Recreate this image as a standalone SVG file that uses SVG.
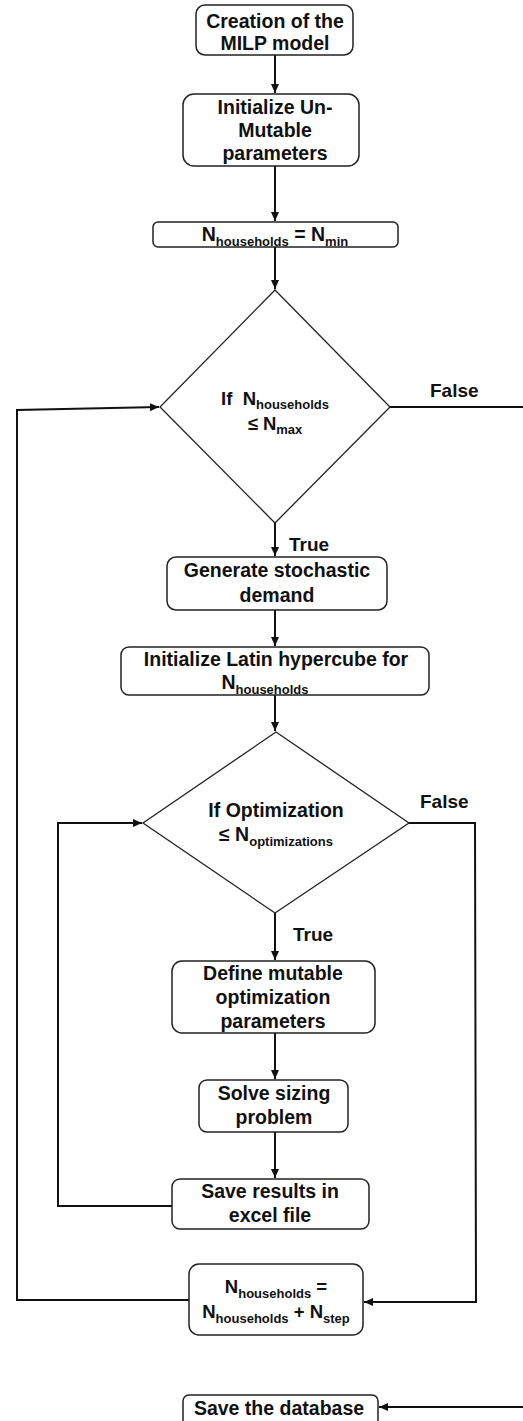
<svg xmlns="http://www.w3.org/2000/svg" width="523" height="1421" viewBox="0 0 523 1421">
<style>
.box{fill:#fff;stroke:#222;stroke-width:1.5}
.dia{fill:#fff;stroke:#222;stroke-width:1.3}
.t{font-family:"Liberation Sans",Arial,sans-serif;font-weight:bold;font-size:19.5px;fill:#111;text-anchor:middle}
.lbl{font-family:"Liberation Sans",Arial,sans-serif;font-weight:bold;font-size:19px;fill:#111}
.c{fill:none;stroke:#111;stroke-width:2}
.sub{font-size:13px}
</style>
<defs>
<marker id="ah" markerUnits="userSpaceOnUse" markerWidth="10" markerHeight="10" refX="9" refY="4" orient="auto">
<path d="M0,0 L9,4 L0,8 Z" fill="#111"/>
</marker>
</defs>
<rect width="523" height="1421" fill="#fff"/>
<g id="connectors">
<line class="c" x1="275" y1="55" x2="275" y2="93" marker-end="url(#ah)"/>
<line class="c" x1="275" y1="166" x2="275" y2="221" marker-end="url(#ah)"/>
<line class="c" x1="275" y1="247" x2="275" y2="289" marker-end="url(#ah)"/>
<line class="c" x1="275" y1="523" x2="275" y2="556" marker-end="url(#ah)"/>
<line class="c" x1="275" y1="610" x2="275" y2="646" marker-end="url(#ah)"/>
<line class="c" x1="275" y1="695" x2="275" y2="731" marker-end="url(#ah)"/>
<line class="c" x1="275" y1="913" x2="275" y2="960" marker-end="url(#ah)"/>
<line class="c" x1="275" y1="1033" x2="275" y2="1079" marker-end="url(#ah)"/>
<line class="c" x1="275" y1="1132" x2="275" y2="1178" marker-end="url(#ah)"/>
<polyline class="c" points="172,1206 58,1206 58,823 142,823" marker-end="url(#ah)"/>
<polyline class="c" points="409,823 475,823 476,1302 364,1302" marker-end="url(#ah)"/>
<polyline class="c" points="189,1300 17,1300 17,410 159,407" marker-end="url(#ah)"/>
<line class="c" x1="390" y1="407" x2="523" y2="407"/>
<line class="c" x1="523" y1="1407" x2="379" y2="1407" marker-end="url(#ah)"/>
<text class="lbl" x="289" y="551">True</text>
<text class="lbl" x="293" y="941">True</text>
<text class="lbl" x="430" y="397">False</text>
<text class="lbl" x="420" y="808">False</text>
</g>
<g id="n1">
<rect class="box" x="196" y="5" width="157" height="50" rx="9"/>
<text class="t" x="275" y="28">Creation of the</text>
<text class="t" x="275" y="50">MILP model</text>
</g>
<g id="n2">
<rect class="box" x="183" y="94" width="176" height="72" rx="11"/>
<text class="t" x="275" y="114">Initialize Un-</text>
<text class="t" x="275" y="137">Mutable</text>
<text class="t" x="275" y="160">parameters</text>
</g>
<g id="n3">
<rect class="box" x="153" y="222" width="245" height="25" rx="5"/>
<text class="t" x="275" y="241">N<tspan class="sub" dy="5">households</tspan><tspan dy="-5"> = N</tspan><tspan class="sub" dy="5">min</tspan></text>
</g>
<g id="d1">
<polygon class="dia" points="275,290 390,407 275,523 160,407"/>
<text class="t" x="275" y="405" style="font-size:18.5px">If &#160;N<tspan class="sub" dy="4">households</tspan></text>
<text class="t" x="275" y="430" style="font-size:18.5px">≤ N<tspan class="sub" dy="4">max</tspan></text>
</g>
<g id="n4">
<rect class="box" x="167" y="557" width="220" height="53" rx="9"/>
<text class="t" x="277" y="577">Generate stochastic</text>
<text class="t" x="277" y="602">demand</text>
</g>
<g id="n5">
<rect class="box" x="121" y="647" width="308" height="48" rx="8"/>
<text class="t" x="276" y="666">Initialize Latin hypercube for</text>
<text class="t" x="265" y="689">N<tspan class="sub" dy="5">households</tspan></text>
</g>
<g id="d2">
<polygon class="dia" points="276,732 409,823 275,913 143,823"/>
<text class="t" x="276" y="817">If Optimization</text>
<text class="t" x="276" y="841">≤ N<tspan class="sub" dy="5">optimizations</tspan></text>
</g>
<g id="n6">
<rect class="box" x="172" y="961" width="203" height="72" rx="10"/>
<text class="t" x="273" y="980">Define mutable</text>
<text class="t" x="273" y="1004">optimization</text>
<text class="t" x="273" y="1028">parameters</text>
</g>
<g id="n7">
<rect class="box" x="199" y="1080" width="149" height="52" rx="8"/>
<text class="t" x="274" y="1100">Solve sizing</text>
<text class="t" x="274" y="1124">problem</text>
</g>
<g id="n8">
<rect class="box" x="172" y="1179" width="197" height="50" rx="8"/>
<text class="t" x="270" y="1198">Save results in</text>
<text class="t" x="270" y="1222">excel file</text>
</g>
<g id="n9">
<rect class="box" x="189" y="1264" width="174" height="71" rx="10"/>
<text class="t" x="276" y="1293" style="font-size:18.5px">N<tspan class="sub" dy="5">households</tspan><tspan dy="-5"> =</tspan></text>
<text class="t" x="276" y="1318" style="font-size:18.5px">N<tspan class="sub" dy="5">households</tspan><tspan dy="-5"> + N</tspan><tspan class="sub" dy="5">step</tspan></text>
</g>
<g id="n10">
<rect class="box" x="183" y="1395" width="195" height="32" rx="6"/>
<text class="t" x="279" y="1415">Save the database</text>
</g>
</svg>
